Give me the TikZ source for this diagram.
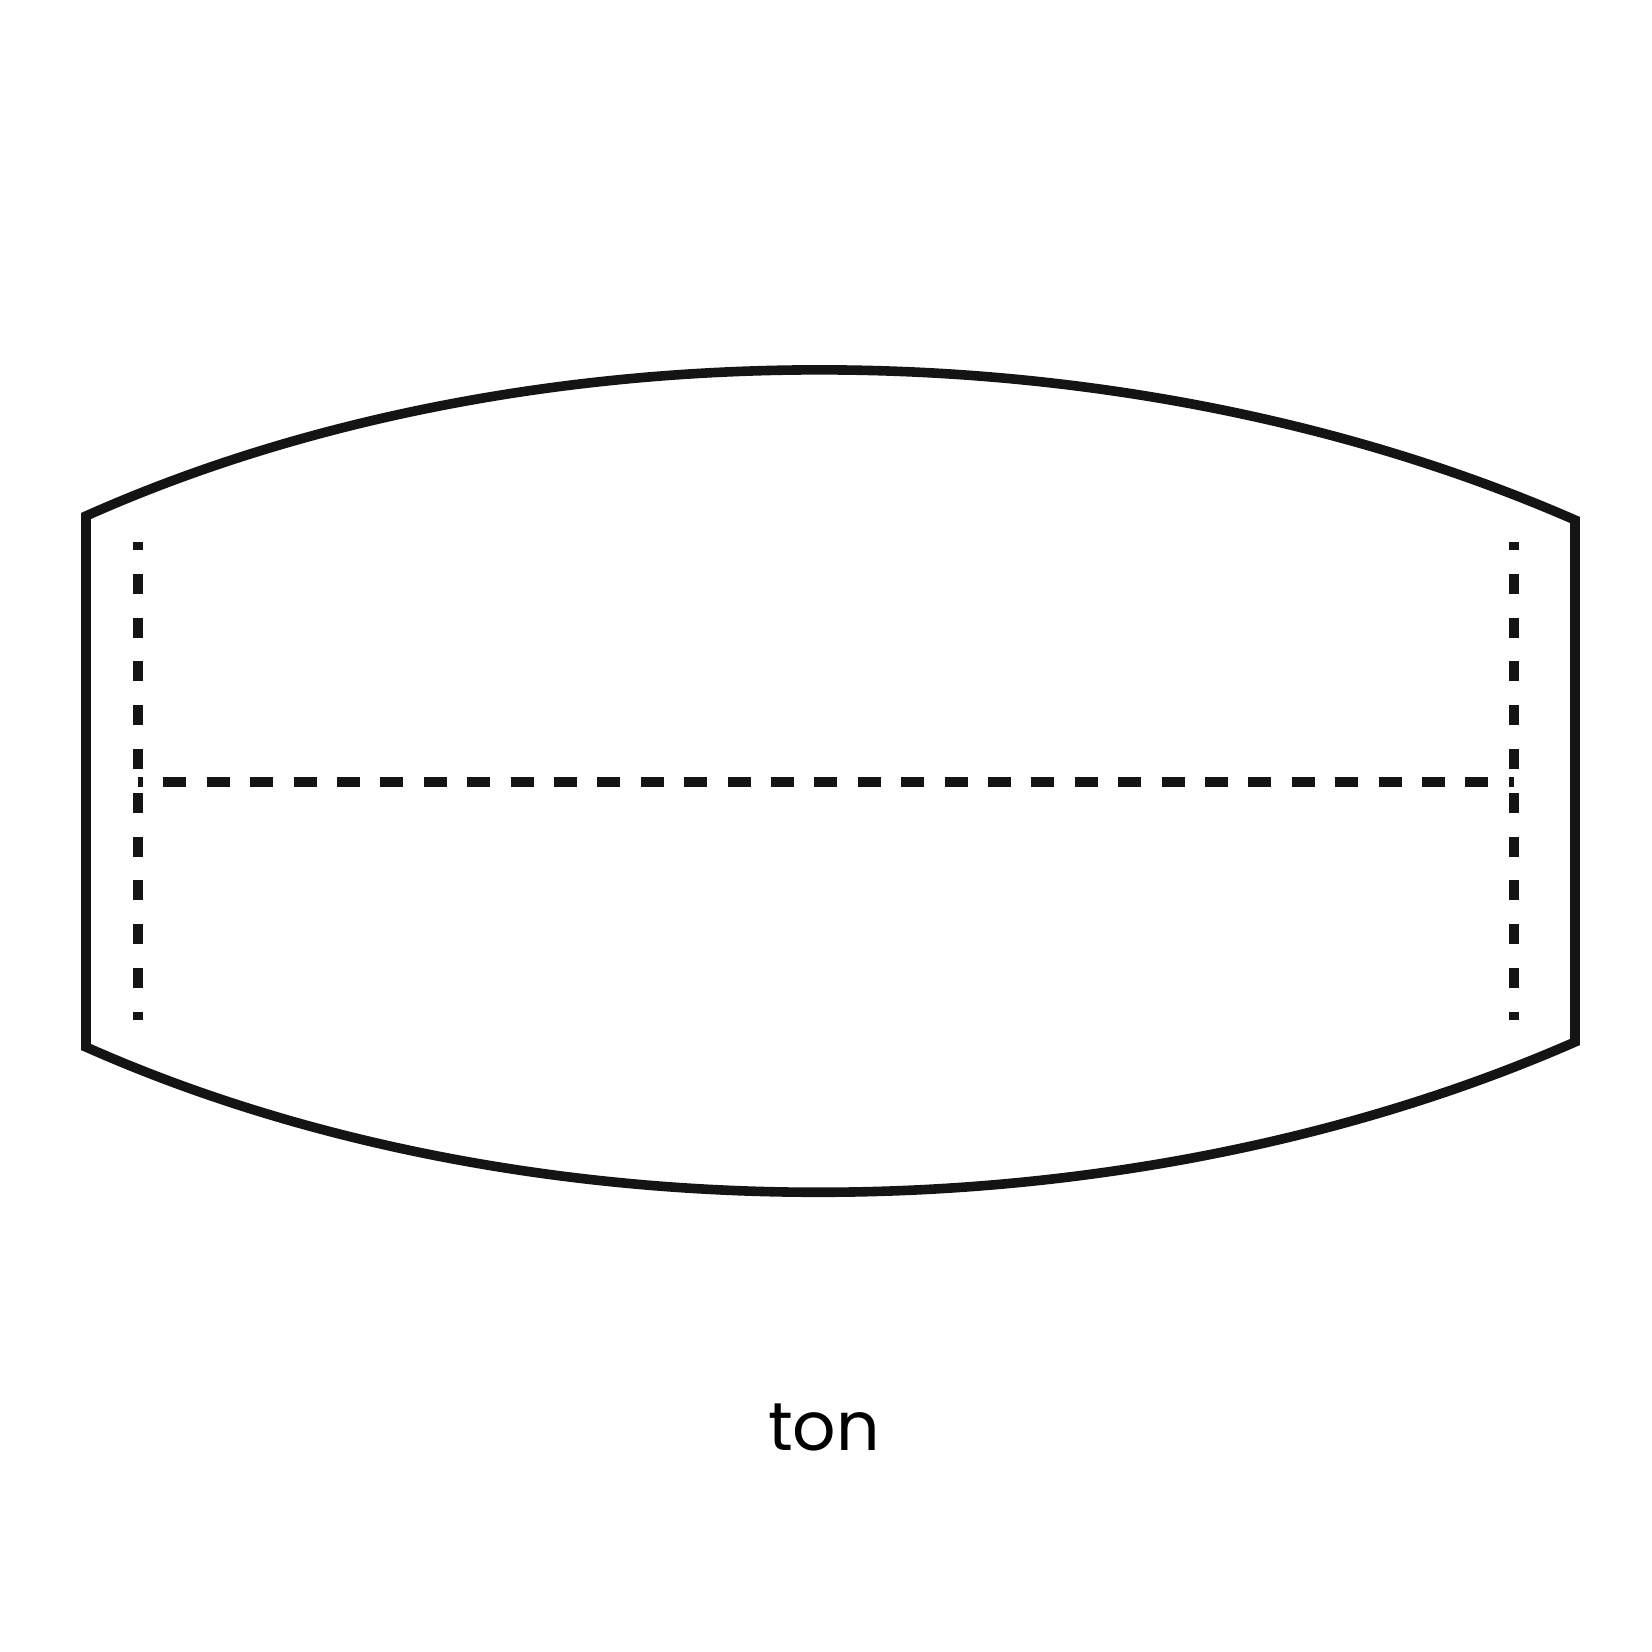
\documentclass[tikz,border=0pt]{standalone}
\usepackage{fontspec}
\setmainfont{Poppins}
\begin{document}
\begin{tikzpicture}[x=0.5pt,y=-0.5pt,
  outline/.style={line width=4.8pt, line join=miter, black!92},
  seam/.style={line width=5pt, black!92},
  vseam/.style={seam, dash pattern=on 10pt off 11.9pt, dash phase=6pt},
  hseam/.style={seam, dash pattern=on 11.5pt off 10.2pt, dash phase=9pt},
  label/.style={font=\fontsize{34}{40}\selectfont, anchor=base, inner sep=0pt}]
\useasboundingbox[fill=white] (0,0) rectangle (1652,1652);
% corners
\coordinate (tl) at (86,516);
\coordinate (tr) at (1575,520);
\coordinate (br) at (1575,1042);
\coordinate (bl) at (86,1047);
% outline: top curve, right edge, bottom curve, left edge
\draw[outline] (tl) .. controls (525,320) and (1120,321) .. (tr)
  -- (br) .. controls (1120,1241) and (525,1242) .. (bl)
  -- cycle;
% seams
\coordinate (lt) at (138,542);
\coordinate (lb) at (138,1020);
\coordinate (rt) at (1514,542);
\coordinate (rb) at (1514,1020);
\coordinate (hl) at (138,782);
\coordinate (hr) at (1514,782);
\draw[vseam] (lt) -- (lb);
\draw[vseam] (rt) -- (rb);
\draw[hseam] (hl) -- (hr);
% label
\node[label] (ton) at (824,1450) {ton};
\end{tikzpicture}
\end{document}
